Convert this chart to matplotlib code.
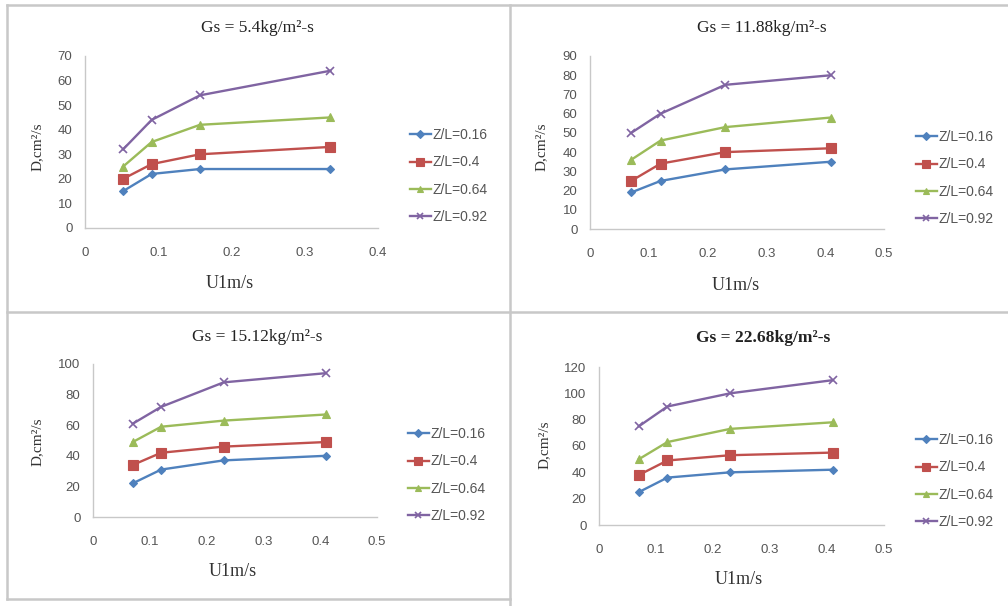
import matplotlib
matplotlib.use("Agg")
import matplotlib.pyplot as plt
from matplotlib.lines import Line2D

W, H = 1008, 606

titles = ["Gs = 5.4kg/m²-s", "Gs = 11.88kg/m²-s", "Gs = 15.12kg/m²-s", "Gs = 22.68kg/m²-s"]
series_labels = ["Z/L=0.16", "Z/L=0.4", "Z/L=0.64", "Z/L=0.92"]

u1_p1 = [0.052, 0.091, 0.157, 0.335]
u1_p2 = [0.07, 0.12, 0.23, 0.41]
u1_p3 = [0.07, 0.12, 0.23, 0.41]
u1_p4 = [0.07, 0.12, 0.23, 0.41]

d_p1 = [[15, 22, 24, 24], [20, 26, 30, 33], [25, 35, 42, 45], [32, 44, 54, 64]]
d_p2 = [[19, 25, 31, 35], [25, 34, 40, 42], [36, 46, 53, 58], [50, 60, 75, 80]]
d_p3 = [[22, 31, 37, 40], [34, 42, 46, 49], [49, 59, 63, 67], [61, 72, 88, 94]]
d_p4 = [[25, 36, 40, 42], [38, 49, 53, 55], [50, 63, 73, 78], [75, 90, 100, 110]]

xmax = [0.4, 0.5, 0.5, 0.5]
ymax = [70, 90, 100, 120]
ystep = [10, 10, 20, 20]

colors = ["#4F81BD", "#C0504D", "#9BBB59", "#8064A2"]
markers = ["D", "s", "^", "x"]
msizes = [4.5, 7, 6, 6]

# panel layout in pixels: (x0, x1, y_bottom, y_top)
axes_px = [(85, 378, 228, 56), (590, 884, 229, 56), (93, 377, 517, 364), (599, 884, 525, 367)]
title_px = [(257, 28), (762, 28), (257, 337), (763, 338)]
xlabel_px = [(230, 283), (736, 285), (233, 572), (739, 580)]
ylabel_px = [(37, 147), (541, 147), (37, 442), (544, 445)]
legend_px = [(410, 176), (916, 178), (408, 475), (916, 481)]

fig = plt.figure(figsize=(W / 100, H / 100), dpi=100)
fig.patch.set_facecolor("white")

serif = ["Liberation Serif", "DejaVu Serif"]
sans = ["Liberation Sans", "DejaVu Sans"]

xs_all = [u1_p1, u1_p2, u1_p3, u1_p4]
ds_all = [d_p1, d_p2, d_p3, d_p4]

for i in range(4):
    x0, x1, yb, yt = axes_px[i]
    ax = fig.add_axes([x0 / W, 1 - yb / H, (x1 - x0) / W, (yb - yt) / H])
    for j in range(4):
        ax.plot(xs_all[i], ds_all[i][j], color=colors[j], marker=markers[j],
                markersize=msizes[j], lw=1.7, label=series_labels[j],
                markeredgewidth=1.2 if markers[j] == "x" else 0.8)
    ax.set_xlim(0, xmax[i])
    ax.set_ylim(0, ymax[i])
    step = 0.1
    n = int(round(xmax[i] / step)) + 1
    ax.set_xticks([k * step for k in range(n)])
    ax.set_xticklabels([("0" if k == 0 else f"{k*step:.1f}") for k in range(n)])
    ax.set_yticks(list(range(0, ymax[i] + 1, ystep[i])))
    for s in ["top", "right"]:
        ax.spines[s].set_visible(False)
    for s in ["left", "bottom"]:
        ax.spines[s].set_color("#c8c8c8")
        ax.spines[s].set_linewidth(1.0)
    ax.tick_params(axis="x", length=0, pad=14, labelsize=9.5, labelcolor="#555555")
    ax.tick_params(axis="y", length=0, pad=9, labelsize=9.5, labelcolor="#555555")
    for lab in ax.get_xticklabels() + ax.get_yticklabels():
        lab.set_family(sans)
    ax.set_facecolor("none")
    for line in ax.get_lines():
        line.set_clip_on(False)

    tx, ty = title_px[i]
    fig.text(tx / W, 1 - ty / H, titles[i], ha="center", va="center",
             fontsize=12.5, family=serif, color="#222222",
             fontweight="bold" if i == 3 else "normal")
    lx, ly = xlabel_px[i]
    fig.text(lx / W, 1 - ly / H, "U1m/s", ha="center", va="center",
             fontsize=13, family=serif, color="#333333")
    yx, yy = ylabel_px[i]
    fig.text(yx / W, 1 - yy / H, "D,cm²/s", ha="center", va="center",
             rotation=90, fontsize=11, family=serif, color="#333333")
    gx, gy = legend_px[i]
    leg = ax.legend(loc="center left", bbox_to_anchor=(gx / W, 1 - gy / H),
                    bbox_transform=fig.transFigure, frameon=False,
                    labelspacing=0.95, handlelength=1.5,
                    handletextpad=0.15, borderpad=0, borderaxespad=0,
                    markerscale=0.8, prop={"family": sans, "size": 10})
    for t in leg.get_texts():
        t.set_color("#555555")

# panel borders
bc = "#c8c8c8"
def hline(y, xa, xb):
    fig.add_artist(Line2D([xa / W, xb / W], [1 - y / H, 1 - y / H], color=bc, lw=1.8))
def vline(x, ya, yb):
    fig.add_artist(Line2D([x / W, x / W], [1 - ya / H, 1 - yb / H], color=bc, lw=1.8))

hline(5, 7, 1008)
vline(7, 5, 599)
hline(312, 7, 1008)
vline(510, 5, 606)
hline(599, 7, 510)

fig.savefig("out.png", dpi=100, facecolor="white")
